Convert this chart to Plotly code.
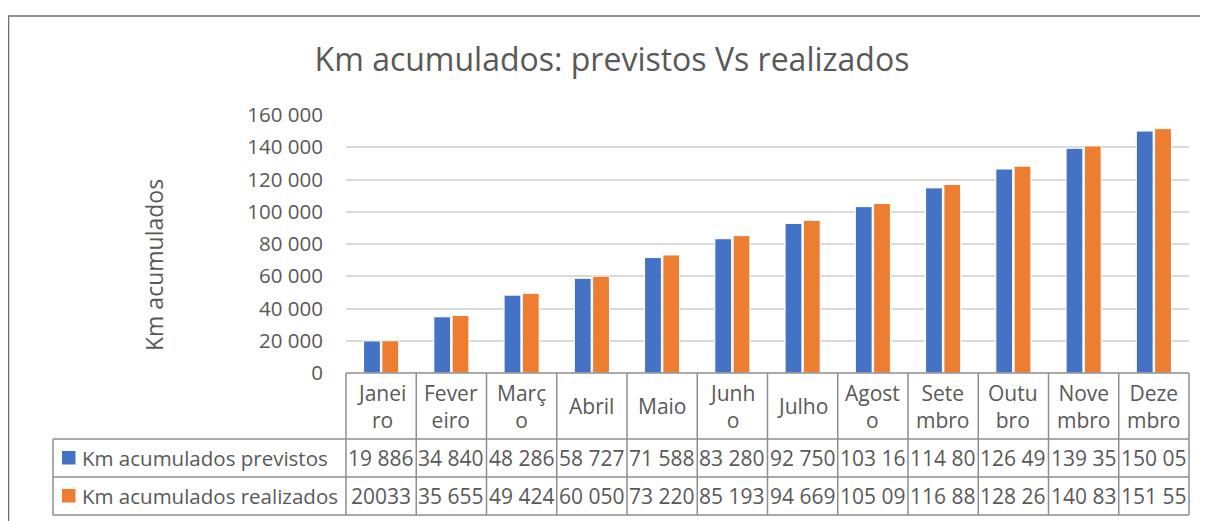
import plotly.graph_objects as go

# ---- data ----
months = ["Janeiro", "Fevereiro", "Março", "Abril", "Maio", "Junho",
          "Julho", "Agosto", "Setembro", "Outubro", "Novembro", "Dezembro"]
header_labels = ["Janei<br>ro", "Fever<br>eiro", "Març<br>o", "Abril", "Maio", "Junh<br>o",
                 "Julho", "Agost<br>o", "Sete<br>mbro", "Outu<br>bro", "Nove<br>mbro", "Deze<br>mbro"]
previstos = [19886, 34840, 48286, 58727, 71588, 83280, 92750, 103160, 114800, 126490, 139350, 150050]
realizados = [20033, 35655, 49424, 60050, 73220, 85193, 94669, 105090, 116880, 128260, 140830, 151550]
previstos_text = ["19 886", "34 840", "48 286", "58 727", "71 588", "83 280", "92 750",
                  "103 16", "114 80", "126 49", "139 35", "150 05"]
realizados_text = ["20033", "35 655", "49 424", "60 050", "73 220", "85 193", "94 669",
                   "105 09", "116 88", "128 26", "140 83", "151 55"]
series_names = ["Km acumulados previstos", "Km acumulados realizados"]
title_text = "Km acumulados: previstos Vs realizados"
y_title = "Km acumulados"

# ---- style ----
BLUE = "#4472C4"
ORANGE = "#ED7D31"
TXT = "#595959"
LINE = "#8E8E8E"
FONT = "Open Sans"
OFF = 8  # default page body margin
W, H = 1208 - OFF, 521 - OFF
L, R, T, B = 346 - OFF, 19, 115 - OFF, 521 - 373
PW, PH = W - L - R, H - T - B


def px(xpix):
    return (xpix - OFF - L) / PW


def py(ypix):
    return (H - B - (ypix - OFF)) / PH


fig = go.Figure()
fig.add_trace(go.Bar(x=months, y=previstos, name=series_names[0],
                     marker=dict(color=BLUE, line=dict(color="white", width=1))))
fig.add_trace(go.Bar(x=months, y=realizados, name=series_names[1],
                     marker=dict(color=ORANGE, line=dict(color="white", width=1))))

shapes = []
line = dict(color=LINE, width=1.5)
n = len(months)
shapes.append(dict(type="line", xref="paper", yref="paper", x0=0, x1=1, y0=py(373), y1=py(373), line=line))
for yy in (439, 477, 515):
    shapes.append(dict(type="line", xref="paper", yref="paper", x0=px(53), x1=1, y0=py(yy), y1=py(yy), line=line))
for i in range(n + 1):
    xx = i / n
    shapes.append(dict(type="line", xref="paper", yref="paper", x0=xx, x1=xx, y0=py(373), y1=py(515), line=line))
shapes.append(dict(type="line", xref="paper", yref="paper", x0=px(53), x1=px(53), y0=py(439), y1=py(515), line=line))
for yc, col in ((458, BLUE), (496, ORANGE)):
    shapes.append(dict(type="rect", xref="paper", yref="paper", x0=px(62), x1=px(75.5),
                       y0=py(yc - 7), y1=py(yc + 6.5), fillcolor=col, line=dict(width=0)))
shapes.append(dict(type="rect", xref="paper", yref="paper", x0=px(8.5), x1=px(1240), y0=py(16), y1=py(560),
                   line=dict(color="#6E6E6E", width=1.5)))

ann = []
cell_font = dict(family=FONT, size=21, color=TXT)
for i, m in enumerate(months):
    ann.append(dict(x=m, xref="x", y=py(406), yref="paper", text=header_labels[i], showarrow=False,
                    font=cell_font, xanchor="center", yanchor="middle", align="center"))
    ann.append(dict(x=m, xref="x", y=py(458), yref="paper", text=previstos_text[i], showarrow=False,
                    font=cell_font, xanchor="center", yanchor="middle"))
    ann.append(dict(x=m, xref="x", y=py(496), yref="paper", text=realizados_text[i], showarrow=False,
                    font=cell_font, xanchor="center", yanchor="middle"))
for yc, name in ((458, series_names[0]), (496, series_names[1])):
    ann.append(dict(x=px(80), xref="paper", y=py(yc), yref="paper", text=name, showarrow=False,
                    font=dict(family=FONT, size=20.5, color=TXT), xanchor="left", yanchor="middle"))
ann.append(dict(x=px(154), xref="paper", y=py(265), yref="paper", text=y_title, textangle=-90,
                showarrow=False, font=dict(family=FONT, size=23, color=TXT),
                xanchor="center", yanchor="middle"))

fig.update_layout(
    width=W, height=H,
    margin=dict(l=L, r=R, t=T, b=B, pad=0),
    paper_bgcolor="white", plot_bgcolor="white",
    separators=". ",
    title=dict(text=title_text, x=(612 - OFF) / W, xref="container", xanchor="center",
               y=1 - (60 - OFF) / H, yref="container", yanchor="middle",
               font=dict(family=FONT, size=32, color=TXT)),
    showlegend=False,
    barmode="group", bargap=0.48, bargroupgap=0.08,
    xaxis=dict(showticklabels=False, showgrid=False, zeroline=False, showline=False,
               ticks="", range=[-0.5, n - 0.5]),
    yaxis=dict(range=[0, 160000], dtick=20000, tickformat=",d", showgrid=True,
               gridcolor="#D9D9D9", gridwidth=1.5, zeroline=False, showline=False,
               ticks="", ticklabelstandoff=22,
               tickfont=dict(family=FONT, size=20.5, color=TXT)),
    shapes=shapes, annotations=ann,
    font=dict(family=FONT, color=TXT),
)

fig.write_html("out.html")
